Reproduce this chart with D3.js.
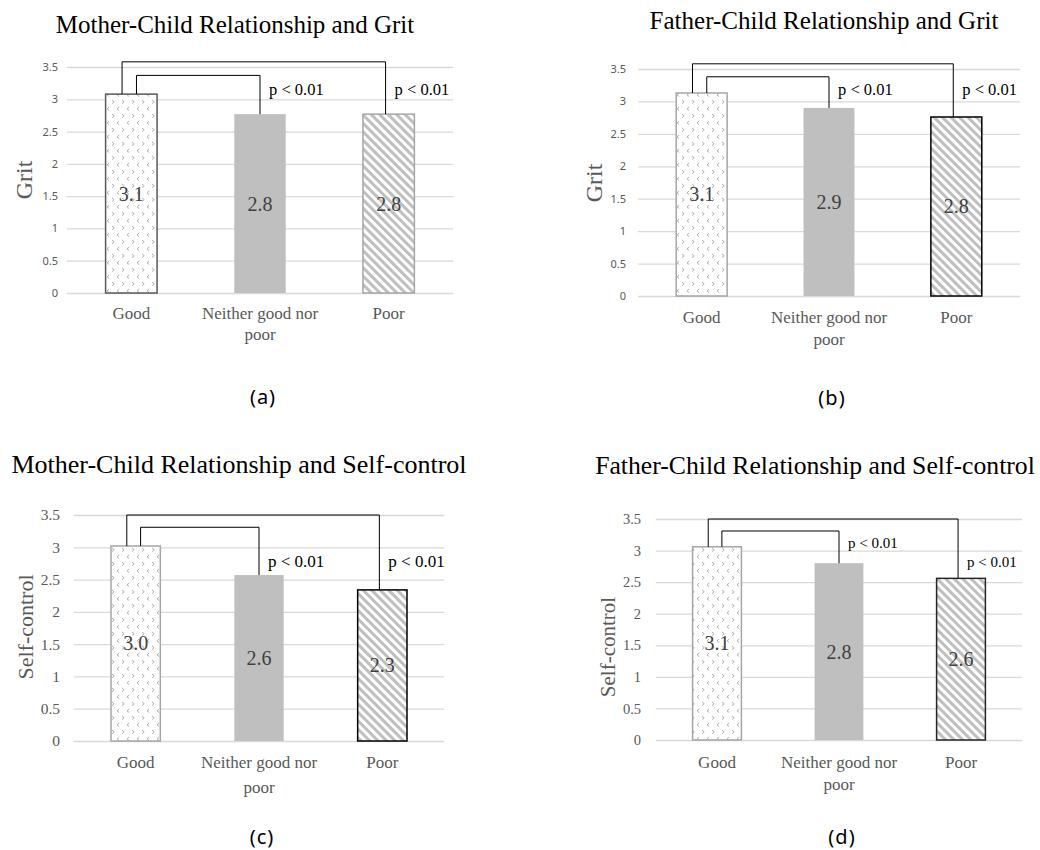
<!DOCTYPE html>
<html>
<head>
<meta charset="utf-8">
<title>Parent-Child Relationship, Grit and Self-control</title>
<script src="https://d3js.org/d3.v7.min.js"></script>
<style>
  body { margin: 0; background: #fff; }
  svg { display: block; }
</style>
</head>
<body>
<div id="chart"></div>
<script>

// ---- data ----
var categories = ["Good", "Neither good nor poor", "Poor"];
var motherGrit = [3.08, 2.77, 2.77];
var fatherGrit = [3.13, 2.90, 2.76];
var motherSelfControl = [3.02, 2.57, 2.34];
var fatherSelfControl = [3.06, 2.80, 2.56];
var yTicks = [0, 0.5, 1, 1.5, 2, 2.5, 3, 3.5];
var titles = [
  "Mother-Child Relationship and Grit",
  "Father-Child Relationship and Grit",
  "Mother-Child Relationship and Self-control",
  "Father-Child Relationship and Self-control"
];
var yTitles = ["Grit", "Grit", "Self-control", "Self-control"];
var captions = ["(a)", "(b)", "(c)", "(d)"];
// comparisons drawn as brackets: Good vs Neither, Good vs Poor
var comparisons = [[0, 1], [0, 2]];
var pText = "p < 0.01";

// ---- layout of the four panels ----
var panels = [
  { values: motherGrit, left: 67, right: 453, top: 67, bottom: 293,
    titleX: 235, titleY: 33, titleSize: 25, yTitleX: 32, yTitleY: 180, yTitleSize: 24,
    tickFont: "'Noto Sans', sans-serif", tickSize: 11, tickPad: 9,
    xLabelY: 319, lineH: 21, captionY: 404,
    goodStroke: "#595959", poorStroke: "#a6a6a6",
    levels: [3.37, 3.58], pAt: [3.06, 3.06], pSize: 16.5 },
  { values: fatherGrit, left: 638, right: 1020, top: 69, bottom: 296,
    titleX: 824, titleY: 29, titleSize: 25, yTitleX: 602, yTitleY: 183, yTitleSize: 24,
    tickFont: "'Noto Sans', sans-serif", tickSize: 11, tickPad: 12,
    xLabelY: 323, lineH: 22, captionY: 405,
    goodStroke: "#a6a6a6", poorStroke: "#000",
    levels: [3.38, 3.58], pAt: [3.10, 3.10], pSize: 16.5 },
  { values: motherSelfControl, left: 74, right: 444, top: 515, bottom: 741,
    titleX: 239, titleY: 473, titleSize: 26, yTitleX: 33, yTitleY: 627, yTitleSize: 22,
    tickFont: "'Liberation Serif', serif", tickSize: 15.5, tickPad: 14,
    xLabelY: 768, lineH: 25, captionY: 844,
    goodStroke: "#a6a6a6", poorStroke: "#000",
    levels: [3.31, 3.5], pAt: [2.69, 2.69], pSize: 17 },
  { values: fatherSelfControl, left: 656, right: 1022, top: 519, bottom: 740,
    titleX: 815, titleY: 474, titleSize: 25.7, yTitleX: 615, yTitleY: 647, yTitleSize: 21,
    tickFont: "'Liberation Serif', serif", tickSize: 14.5, tickPad: 15,
    xLabelY: 768, lineH: 22, captionY: 844,
    goodStroke: "#a6a6a6", poorStroke: "#262626",
    levels: [3.31, 3.5], pAt: [3.04, 2.74], pSize: 15 }
];

var serif = "'Liberation Serif', 'Times New Roman', serif";

var svg = d3.select("#chart").append("svg")
    .attr("width", 1040)
    .attr("height", 850);

// fill patterns
var defs = svg.append("defs");

// sparse "< >" confetti used for the Good bars
var dots = defs.append("pattern")
    .attr("id", "confetti")
    .attr("patternUnits", "userSpaceOnUse")
    .attr("width", 10)
    .attr("height", 14);
dots.append("rect").attr("width", 10).attr("height", 14).attr("fill", "#fff");
dots.selectAll("path")
  .data(["M2,2 l2.2,1.8 l-2.2,1.8", "M9.2,9 l-2.2,1.8 l2.2,1.8"])
  .enter().append("path")
    .attr("d", function(d) { return d; })
    .attr("fill", "none")
    .attr("stroke", "#a6a6a6")
    .attr("stroke-width", 0.9);

var stripes = defs.append("pattern")
    .attr("id", "stripes")
    .attr("patternUnits", "userSpaceOnUse")
    .attr("width", 6)
    .attr("height", 6)
    .attr("patternTransform", "rotate(-45)");
stripes.append("rect").attr("width", 6).attr("height", 6).attr("fill", "#fff");
stripes.append("rect").attr("width", 3).attr("height", 6).attr("fill", "#bfbfbf");

var fills = ["url(#confetti)", "#bfbfbf", "url(#stripes)"];

// wrap long category names onto two lines
function wrap(text, width, lineH) {
  text.each(function() {
    var t = d3.select(this),
        words = t.text().split(/\s+/),
        x = t.attr("x"),
        line = [],
        tspan = t.text(null).append("tspan").attr("x", x).attr("dy", 0);
    words.forEach(function(w) {
      line.push(w);
      tspan.text(line.join(" "));
      if (tspan.node().getComputedTextLength() > width && line.length > 1) {
        line.pop();
        tspan.text(line.join(" "));
        line = [w];
        tspan = t.append("tspan").attr("x", x).attr("dy", lineH).text(w);
      }
    });
  });
}

panels.forEach(function(p, i) {
  var g = svg.append("g");

  var x = d3.scaleBand()
      .domain(categories)
      .range([p.left, p.right])
      .paddingInner(0.6)
      .paddingOuter(0.3);

  var y = d3.scaleLinear()
      .domain([0, 3.5])
      .range([p.bottom, p.top]);

  // gridlines + tick labels
  var axis = g.append("g")
      .attr("transform", "translate(" + p.left + ",0)")
      .call(d3.axisLeft(y)
        .tickValues(yTicks)
        .tickSize(-(p.right - p.left))
        .tickPadding(p.tickPad)
        .tickFormat(function(d) { return d; }));
  axis.select(".domain").remove();
  axis.selectAll("line").attr("stroke", "#d9d9d9").attr("stroke-width", 1.3);
  axis.selectAll("text")
      .attr("fill", "#595959")
      .style("font-family", p.tickFont)
      .style("font-size", p.tickSize + "px");

  // bars
  g.selectAll(".bar")
    .data(p.values)
    .enter().append("rect")
      .attr("class", "bar")
      .attr("x", function(d, j) { return x(categories[j]); })
      .attr("y", function(d) { return y(d); })
      .attr("width", x.bandwidth())
      .attr("height", function(d) { return y(0) - y(d); })
      .attr("fill", function(d, j) { return fills[j]; })
      .attr("stroke", function(d, j) { return j == 0 ? p.goodStroke : (j == 2 ? p.poorStroke : "none"); })
      .attr("stroke-width", 1.5);

  // value labels in the middle of each bar
  g.selectAll(".val")
    .data(p.values)
    .enter().append("text")
      .attr("class", "val")
      .attr("x", function(d, j) { return x(categories[j]) + x.bandwidth() / 2; })
      .attr("y", function(d) { return (y(d) + y(0)) / 2 + 7; })
      .attr("text-anchor", "middle")
      .attr("fill", "#404040")
      .style("font-family", serif)
      .style("font-size", "20px")
      .text(function(d) { return d3.format(".1f")(d); });

  // significance brackets
  var bw = x.bandwidth();
  comparisons.forEach(function(c, k) {
    var a = c[0], b = c[1];
    var x1 = x(categories[a]) + bw / 2 + (k == 0 ? 0.1 * bw : -0.18 * bw);
    var x2 = x(categories[b]) + bw / 2 + (k == 0 ? 0 : -0.06 * bw);
    var ly = y(p.levels[k]);
    var path = d3.path();
    path.moveTo(x1, y(p.values[a]));
    path.lineTo(x1, ly);
    path.lineTo(x2, ly);
    path.lineTo(x2, y(p.values[b]));
    g.append("path")
      .attr("d", path.toString())
      .attr("fill", "none")
      .attr("stroke", "#000")
      .attr("stroke-width", 1);
    g.append("text")
      .attr("x", x2 + 9)
      .attr("y", y(p.pAt[k]))
      .attr("fill", "#000")
      .style("font-family", serif)
      .style("font-size", p.pSize + "px")
      .text(pText);
  });

  // category labels
  g.selectAll(".cat")
    .data(categories)
    .enter().append("text")
      .attr("class", "cat")
      .attr("x", function(d) { return x(d) + bw / 2; })
      .attr("y", p.xLabelY)
      .attr("text-anchor", "middle")
      .attr("fill", "#595959")
      .style("font-family", serif)
      .style("font-size", "17px")
      .text(function(d) { return d; })
      .call(wrap, 122, p.lineH);

  // title
  g.append("text")
    .attr("x", p.titleX)
    .attr("y", p.titleY)
    .attr("text-anchor", "middle")
    .attr("fill", "#000")
    .style("font-family", serif)
    .style("font-size", p.titleSize + "px")
    .text(titles[i]);

  // y axis title
  g.append("text")
    .attr("transform", "translate(" + p.yTitleX + "," + p.yTitleY + ") rotate(-90)")
    .attr("text-anchor", "middle")
    .attr("fill", "#595959")
    .style("font-family", serif)
    .style("font-size", p.yTitleSize + "px")
    .text(yTitles[i]);

  // panel caption
  g.append("text")
    .attr("x", (p.left + p.right) / 2 + 3)
    .attr("y", p.captionY)
    .attr("text-anchor", "middle")
    .attr("fill", "#000")
    .style("font-family", "'Noto Sans', sans-serif")
    .style("font-size", "20px")
    .style("letter-spacing", "1px")
    .text(captions[i]);
});

</script>
</body>
</html>
